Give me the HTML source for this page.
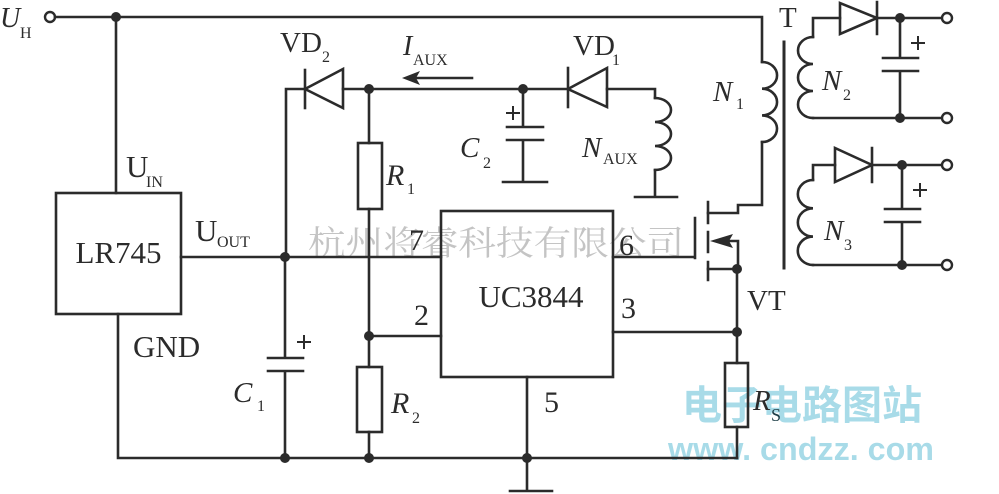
<!DOCTYPE html>
<html><head><meta charset="utf-8">
<style>
html,body{margin:0;padding:0;background:#fff;}
svg{display:block;}
.l{stroke:#2b2b2b;stroke-width:2.6;fill:none;stroke-linecap:square;}
.f{fill:#2b2b2b;}
text{font-family:"Liberation Serif","Noto Serif CJK SC",serif;fill:#2b2b2b;}
.i{font-style:italic;}
.s{font-size:16px;}
.m{font-size:30px;}
</style></head>
<body>
<svg width="999" height="494" viewBox="0 0 999 494" xmlns="http://www.w3.org/2000/svg">
<rect width="999" height="494" fill="#fff"/>
<!-- watermarks -->
<text x="308" y="255" style="font-family:'Noto Serif CJK SC','Noto Sans CJK SC',serif;font-size:34px;fill:#c4c4c4" textLength="376" lengthAdjust="spacingAndGlyphs">杭州将睿科技有限公司</text>
<text x="682" y="419" style="font-family:'Noto Sans CJK SC',sans-serif;font-size:40px;font-weight:bold;fill:#a8dbe8" textLength="240" lengthAdjust="spacingAndGlyphs">电子电路图站</text>
<text x="668" y="460" style="font-family:'Liberation Sans',sans-serif;font-size:32px;font-weight:bold;fill:#a8dbe8" textLength="266" lengthAdjust="spacingAndGlyphs">www. cndzz. com</text>

<!-- top rail -->
<circle cx="50" cy="17" r="5" fill="#fff" stroke="#2b2b2b" stroke-width="2.4"/>
<path class="l" d="M55 17 H762 V62"/>
<!-- N1 coil -->
<path class="l" d="M762 62 a15 13.3 0 0 1 0 26.7 a15 13.3 0 0 1 0 26.7 a15 13.3 0 0 1 0 26.6"/>
<path class="l" d="M762 142 V205 H738 V213 H708"/>
<circle class="f" cx="116" cy="17" r="5"/>
<path class="l" d="M116 17 V193"/>
<!-- LR745 -->
<rect class="l" x="56" y="193" width="125" height="121"/>
<path class="l" d="M181 257 H441"/>
<path class="l" d="M118 314 V458 H737"/>
<!-- VD2 wire -->
<path class="l" d="M286 257 V89 H305"/>
<path class="l" d="M305 70 V108"/>
<polygon points="305,89 343,69 343,108" fill="none" stroke="#2b2b2b" stroke-width="2.6"/>
<path class="l" d="M343 89 H568"/>
<!-- VD1 -->
<path class="l" d="M568 68 V107"/>
<polygon points="568,89 607,68 607,107" fill="none" stroke="#2b2b2b" stroke-width="2.6"/>
<path class="l" d="M607 89 H655 V98"/>
<path class="l" d="M655 98 a16 12 0 0 1 0 24 a16 12 0 0 1 0 24 a16 12 0 0 1 0 24"/>
<path class="l" d="M655 170 V197 M635 197 H677"/>
<!-- C2 -->
<path class="l" d="M523 89 V127 M507 127 H543 M507 140 H543 M523 140 V182 M503 182 H547"/>
<path class="l" d="M507 113 H519 M513 107 V119" style="stroke-width:2"/>
<!-- IAUX arrow -->
<path class="l" d="M414 78 H472"/>
<polygon class="f" points="402,78 420,71 416,78 420,85"/>
<!-- R1 R2 -->
<path class="l" d="M369 89 V143"/>
<rect class="l" x="358" y="143" width="24" height="66"/>
<path class="l" d="M369 209 V367"/>
<rect class="l" x="357" y="367" width="25" height="65"/>
<path class="l" d="M369 432 V458"/>
<path class="l" d="M369 336 H441"/>
<!-- C1 -->
<path class="l" d="M285 257 V358 M268 358 H303 M268 371 H303 M285 371 V458"/>
<path class="l" d="M298 342 H310 M304 336 V348" style="stroke-width:2"/>
<!-- UC3844 -->
<rect class="l" x="441" y="211" width="172" height="166"/>
<path class="l" d="M613 257 H695 M695 218 V258"/>
<path class="l" d="M613 332 H737"/>
<path class="l" d="M527 377 V491 M510 491 H552"/>
<!-- MOSFET -->
<path class="l" d="M708 202 V223 M708 232 V252 M708 262 V280"/>
<path class="l" d="M726 241 H738 V269 H708"/>
<polygon class="f" points="710,241 733,234 729,241 733,248"/>
<path class="l" d="M737 269 V363"/>
<rect class="l" x="725" y="363" width="23" height="64"/>
<path class="l" d="M737 427 V458"/>
<!-- junction dots -->
<g class="f">
<circle cx="285" cy="257" r="5"/><circle cx="285" cy="458" r="5"/>
<circle cx="369" cy="458" r="5"/><circle cx="527" cy="458" r="5"/>
<circle cx="369" cy="336" r="5"/><circle cx="369" cy="89" r="5"/>
<circle cx="523" cy="89" r="5"/><circle cx="737" cy="269" r="5"/>
<circle cx="737" cy="332" r="5"/>
<circle cx="900" cy="18" r="5"/><circle cx="900" cy="118" r="5"/>
<circle cx="902" cy="165" r="5"/><circle cx="902" cy="265" r="5"/>
</g>
<!-- transformer core -->
<path class="l" d="M784 42 V268" style="stroke-width:3"/>
<!-- N2 secondary -->
<path class="l" d="M813 37 V18 H840"/>
<path class="l" d="M813 37 a15 13.5 0 0 0 0 27 a15 13.5 0 0 0 0 27 a15 13.5 0 0 0 0 27"/>
<polygon points="840,3 840,34 877,18" fill="none" stroke="#2b2b2b" stroke-width="2.6"/>
<path class="l" d="M877 2 V34 M877 18 H942"/>
<path class="l" d="M900 18 V58 M883 58 H918 M883 71 H918 M900 71 V118 M813 118 H942"/>
<path class="l" d="M912 43 H924 M918 37 V49" style="stroke-width:2"/>
<circle cx="947" cy="18" r="5" fill="#fff" stroke="#2b2b2b" stroke-width="2.4"/>
<circle cx="947" cy="118" r="5" fill="#fff" stroke="#2b2b2b" stroke-width="2.4"/>
<!-- N3 secondary -->
<path class="l" d="M813 180 V165 H835"/>
<path class="l" d="M813 180 a15 14 0 0 0 0 28.3 a15 14 0 0 0 0 28.3 a15 14 0 0 0 0 28.4"/>
<polygon points="835,148 835,182 872,165" fill="none" stroke="#2b2b2b" stroke-width="2.6"/>
<path class="l" d="M872 148 V182 M872 165 H942"/>
<path class="l" d="M902 165 V209 M885 209 H920 M885 222 H920 M902 222 V265 M813 265 H942"/>
<path class="l" d="M914 190 H926 M920 184 V196" style="stroke-width:2"/>
<circle cx="947" cy="165" r="5" fill="#fff" stroke="#2b2b2b" stroke-width="2.4"/>
<circle cx="947" cy="265" r="5" fill="#fff" stroke="#2b2b2b" stroke-width="2.4"/>

<!-- labels -->
<text x="0" y="27" class="i" font-size="28">U</text><text x="20" y="38" class="s">H</text>
<text x="280" y="52" font-size="29">VD</text><text x="322" y="62" class="s">2</text>
<text x="403" y="55" class="i" font-size="28">I</text><text x="413" y="65" class="s">AUX</text>
<text x="573" y="55" font-size="29">VD</text><text x="612" y="65" class="s">1</text>
<text x="460" y="157" class="i" font-size="29">C</text><text x="483" y="168" class="s">2</text>
<text x="582" y="157" class="i" font-size="29">N</text><text x="603" y="164" class="s">AUX</text>
<text x="386" y="185" class="i" font-size="30">R</text><text x="407" y="194" class="s">1</text>
<text x="126" y="177" font-size="31">U</text><text x="146" y="187" class="s">IN</text>
<text x="195" y="241" font-size="31">U</text><text x="217" y="247" class="s">OUT</text>
<text x="118.5" y="263" font-size="31" text-anchor="middle">LR745</text>
<text x="133" y="357" font-size="31">GND</text>
<text x="409" y="250" class="m">7</text>
<text x="414" y="325" class="m">2</text>
<text x="619" y="255" class="m">6</text>
<text x="621" y="318" class="m">3</text>
<text x="544" y="412" class="m">5</text>
<text x="531" y="307" font-size="31" text-anchor="middle">UC3844</text>
<text x="233" y="402" class="i" font-size="29">C</text><text x="257" y="411" class="s">1</text>
<text x="391" y="413" class="i" font-size="30">R</text><text x="412" y="423" class="s">2</text>
<text x="747" y="310" font-size="29">VT</text>
<text x="753" y="410" class="i" font-size="29">R</text><text x="771" y="421" font-size="18" style="fill:#1f3f48">S</text>
<text x="779" y="27" font-size="29">T</text>
<text x="713" y="101" class="i" font-size="29">N</text><text x="736" y="109" class="s">1</text>
<text x="822" y="90" class="i" font-size="29">N</text><text x="843" y="100" class="s">2</text>
<text x="824" y="240" class="i" font-size="29">N</text><text x="844" y="250" class="s">3</text>
</svg>
</body></html>
